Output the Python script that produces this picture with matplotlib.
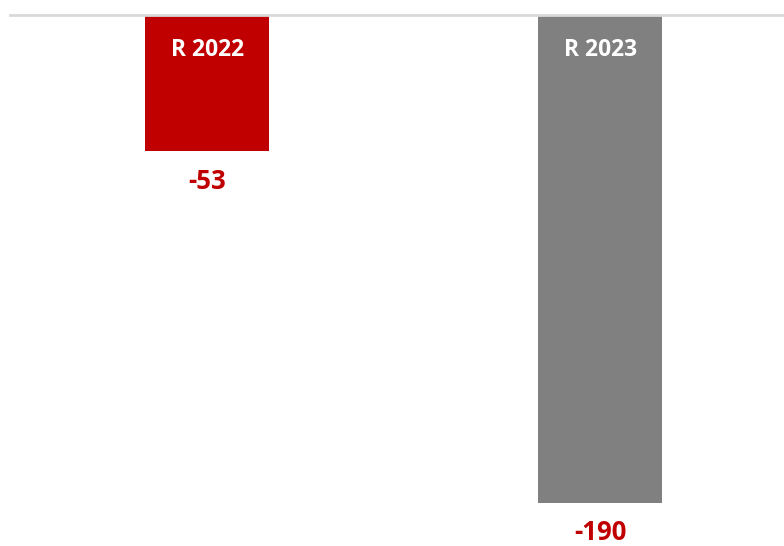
from matplotlib import pyplot as plt

# data
labels = ["R 2022", "R 2023"]
values = [-53, -190]
colors = ["#C00000", "#808080"]

def main():
    plt.rcParams['font.family'] = ['Open Sans', 'DejaVu Sans']

    fig = plt.figure(figsize=(7.84, 5.46), dpi=100)
    ax = fig.add_axes([0, 0, 1, 1])

    x = list(range(len(values)))
    ax.bar(x, values, width=0.3155, color=colors, zorder=2)

    # zero line
    ax.axhline(0, xmin=10 / 784, xmax=1, color="#d9d9d9", lw=2, zorder=3)

    for xi, lab, v in zip(x, labels, values):
        # name inside the bar, near the top
        ax.annotate(lab, (xi, 0), xytext=(0, -35), textcoords="offset pixels",
                    ha="center", va="center", color="white",
                    fontsize=16.5, fontweight="bold")
        # value below the bar
        ax.annotate(str(v), (xi, v), xytext=(0, -30), textcoords="offset pixels",
                    ha="center", va="center", color="#C00000",
                    fontsize=18.5, fontweight="bold")

    ax.set_xlim(-0.527, 1.468)
    ax.set_ylim(-206.8, 5.84)
    ax.axis("off")

    fig.savefig("out.png", dpi=100, facecolor="white")

if __name__ == '__main__':
    main()
